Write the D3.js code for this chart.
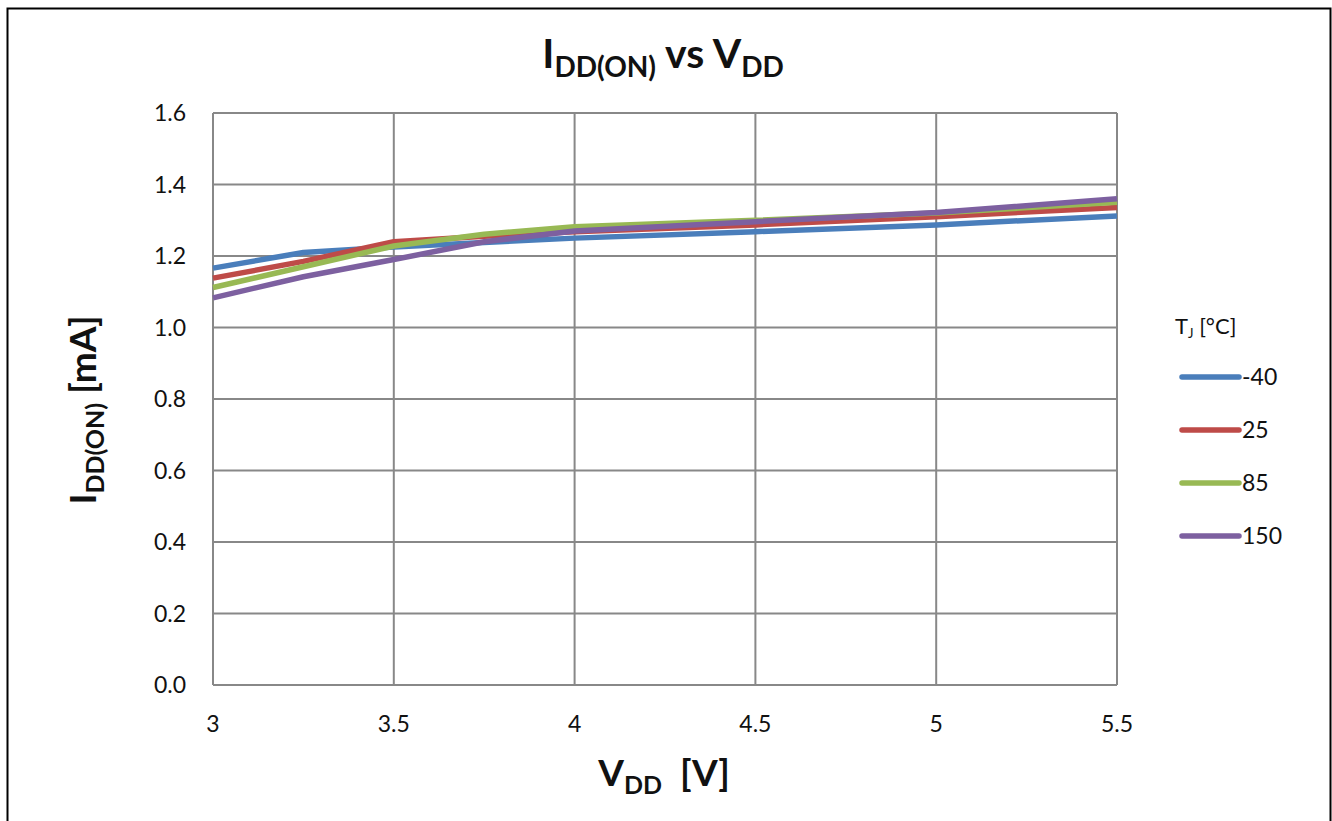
<!DOCTYPE html>
<html>
<head>
<meta charset="utf-8">
<script src="https://cdn.jsdelivr.net/npm/d3@7"></script>
<style>
  body { margin: 0; background: #fff; }
  svg text { font-family: Lato, "Open Sans", sans-serif; fill: #111; }
  .grid line, .grid path { stroke: #888; stroke-width: 2; }
</style>
</head>
<body>
<svg id="chart" width="1332" height="821"></svg>
<script>
// data
const vdd = [3, 3.25, 3.5, 3.75, 4, 4.5, 5, 5.5];
const tempLabels = ["-40", "25", "85", "150"];
const iddM40 = [1.166, 1.21, 1.225, 1.238, 1.25, 1.268, 1.287, 1.312];
const idd25  = [1.138, 1.185, 1.24, 1.255, 1.268, 1.287, 1.31, 1.336];
const idd85  = [1.112, 1.17, 1.228, 1.261, 1.282, 1.30, 1.32, 1.35];
const idd150 = [1.083, 1.142, 1.19, 1.24, 1.27, 1.296, 1.322, 1.36];
const seriesColors = ["#4a7ebb", "#be4b48", "#98b954", "#7d60a0"];
const xTicks = [3, 3.5, 4, 4.5, 5, 5.5];
const yTicks = [0, 0.2, 0.4, 0.6, 0.8, 1.0, 1.2, 1.4, 1.6];

const series = [iddM40, idd25, idd85, idd150].map((vals, i) => ({
    label: tempLabels[i],
    color: seriesColors[i],
    points: vals.map((v, j) => [vdd[j], v])
}));

const svg = d3.select("#chart");
const margin = {left: 213, top: 113, right: 1117, bottom: 685};

// outer frame
svg.append("rect")
    .attr("x", 7.5).attr("y", 8.5)
    .attr("width", 1323).attr("height", 830)
    .attr("fill", "none").attr("stroke", "#000").attr("stroke-width", 2);

const x = d3.scaleLinear().domain([3, 5.5]).range([margin.left, margin.right]);
const y = d3.scaleLinear().domain([0, 1.6]).range([margin.bottom, margin.top]);

// gridlines
const grid = svg.append("g").attr("class", "grid");
grid.selectAll(".vx").data(xTicks).enter().append("line")
    .attr("x1", d => x(d)).attr("x2", d => x(d))
    .attr("y1", margin.top).attr("y2", margin.bottom);
grid.selectAll(".hy").data(yTicks).enter().append("line")
    .attr("x1", margin.left).attr("x2", margin.right)
    .attr("y1", d => y(d)).attr("y2", d => y(d));

// tick labels
svg.append("g").selectAll("text").data(yTicks).enter().append("text")
    .attr("x", 186).attr("y", d => y(d) + 8)
    .attr("text-anchor", "end")
    .style("font-size", "23px")
    .text(d => d.toFixed(1));
svg.append("g").selectAll("text").data(xTicks).enter().append("text")
    .attr("x", d => x(d)).attr("y", 732)
    .attr("text-anchor", "middle")
    .style("font-size", "23px")
    .text(d => d);

// lines
const line = d3.line().x(d => x(d[0])).y(d => y(d[1]));
svg.append("g").selectAll("path").data(series).enter().append("path")
    .attr("d", d => line(d.points))
    .attr("fill", "none")
    .attr("stroke", d => d.color)
    .attr("stroke-width", 5.5)
    .attr("stroke-linejoin", "round");

// title
const title = svg.append("text")
    .attr("x", 663).attr("y", 68)
    .attr("text-anchor", "middle")
    .style("font-weight", "bold").style("font-size", "41px");
title.append("tspan").text("I");
title.append("tspan").attr("dy", 9).style("font-size", "28px").text("DD(ON)");
title.append("tspan").attr("dy", -9).text(" vs V");
title.append("tspan").attr("dy", 9).style("font-size", "28px").text("DD");

// y axis label
const yl = svg.append("text")
    .attr("transform", "translate(96,410) rotate(-90)")
    .attr("text-anchor", "middle")
    .style("font-weight", "bold").style("font-size", "37px");
yl.append("tspan").text("I");
yl.append("tspan").attr("dy", 8).style("font-size", "25px").text("DD(ON)");
yl.append("tspan").attr("dy", -8).text(" [mA]");

// x axis label
const xl = svg.append("text")
    .attr("x", 664).attr("y", 786)
    .attr("text-anchor", "middle")
    .style("font-weight", "bold").style("font-size", "37px")
    .style("white-space", "pre");
xl.append("tspan").text("V");
xl.append("tspan").attr("dy", 8).style("font-size", "25px").text("DD");
xl.append("tspan").attr("dy", -8).text("  [V]");

// legend
const lt = svg.append("text")
    .attr("x", 1175).attr("y", 334)
    .style("font-size", "22px");
lt.append("tspan").text("T");
lt.append("tspan").attr("dy", 4).style("font-size", "13px").text("J");
lt.append("tspan").attr("dy", -4).text(" [°C]");

const legend = svg.append("g").selectAll("g").data(series).enter().append("g")
    .attr("transform", (d, i) => `translate(0, ${377 + 53 * i})`);
legend.append("line")
    .attr("x1", 1182).attr("x2", 1239)
    .attr("stroke", d => d.color).attr("stroke-width", 5.5)
    .attr("stroke-linecap", "round");
legend.append("text")
    .attr("x", 1242).attr("y", 8)
    .style("font-size", "23px")
    .text(d => d.label);
</script>
</body>
</html>
